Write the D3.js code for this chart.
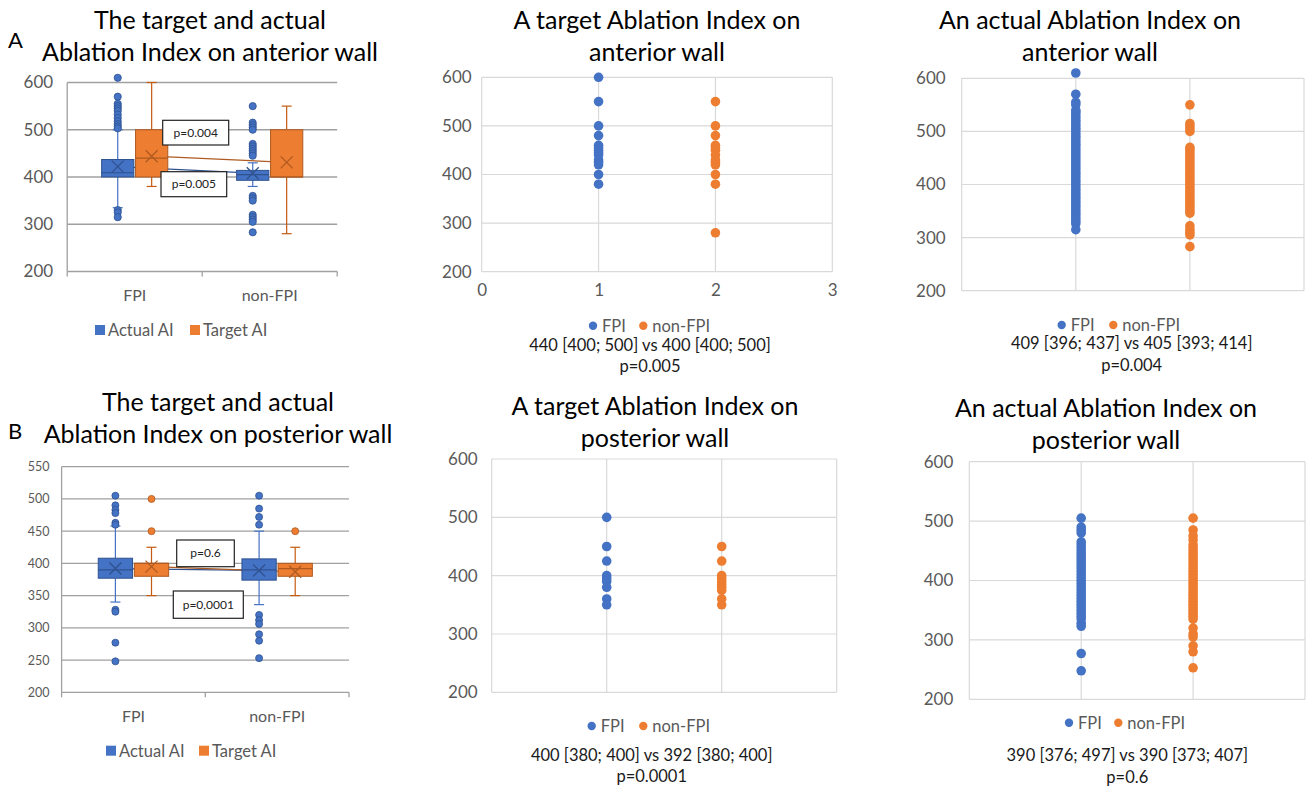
<!DOCTYPE html>
<html lang="en">
<head>
<meta charset="UTF-8">
<title>Ablation Index on anterior and posterior wall</title>
<script src="https://d3js.org/d3.v7.min.js"></script>
<style>
  body { margin: 0; background: #fff; }
  svg { display: block; font-family: Lato, "Open Sans", sans-serif; }
</style>
</head>
<body>
<div id="chart"></div>
<script>
// ---- values ----
const groups = ['FPI', 'non-FPI'];
const boxSeries = ['Actual AI', 'Target AI'];

// box stats per group: [q1, median, q3, mean, whiskerLow, whiskerHigh]
const antActualBox = [[400, 409, 437, 422, 335, 500], [393, 405, 414, 408, 380, 430]];
const antTargetBox = [[400, 440, 500, 444, 380, 600], [400, 400, 500, 431, 280, 550]];
const antActualOut = [
  [610, 570, 555, 550, 545, 540, 532, 525, 518, 512, 507, 503, 330, 325, 315],
  [550, 515, 510, 505, 500, 470, 465, 460, 455, 450, 445, 360, 355, 350, 320, 315, 310, 305, 283]
];
const antTargetOut = [[], []];

const postActualBox = [[377, 390, 408, 392, 340, 458], [374, 390, 407, 389, 336, 450]];
const postTargetBox = [[380, 400, 400, 395, 350, 425], [380, 392, 400, 387, 350, 425]];
const postActualOut = [
  [505, 490, 483, 478, 463, 460, 328, 325, 277, 248],
  [505, 485, 472, 460, 320, 312, 306, 290, 280, 253]
];
const postTargetOut = [[500, 450], [450]];

// scatter columns (x = 1 for FPI, x = 2 for non-FPI)
const antTargetFPI = [600, 550, 500, 480, 460, 455, 450, 445, 440, 430, 425, 420, 400, 380];
const antTargetNon = [550, 500, 480, 460, 455, 450, 440, 430, 425, 420, 400, 380, 280];
const antActualFPI = [610, 570, 555, 550, 540, 536, 531, 526, 521, 516, 511, 506, 501, 496, 491, 486,
  481, 476, 471, 466, 461, 456, 451, 446, 441, 436, 431, 426, 421, 416, 411, 406, 401, 396, 391,
  386, 381, 376, 371, 366, 361, 356, 351, 346, 341, 336, 331, 326, 315];
const antActualNon = [550, 515, 510, 505, 500, 470, 466, 461, 456, 451, 446, 441, 436, 431, 426, 421,
  416, 411, 406, 401, 396, 391, 386, 381, 376, 371, 366, 361, 356, 351, 346, 322, 315, 310, 305, 283];
const postTargetFPI = [500, 450, 425, 400, 395, 390, 380, 360, 350];
const postTargetNon = [450, 425, 400, 395, 390, 385, 380, 375, 360, 350];
const postActualFPI = [505, 490, 485, 480, 465, 460, 455, 450, 445, 440, 435, 430, 425, 420, 415,
  410, 405, 400, 395, 390, 385, 380, 375, 370, 365, 360, 355, 350, 345, 340, 335, 328, 323, 277, 248];
const postActualNon = [505, 485, 475, 468, 460, 455, 450, 445, 440, 435, 430, 425, 420, 415, 410,
  405, 400, 395, 390, 385, 380, 375, 370, 365, 360, 355, 350, 345, 340, 335, 320, 310, 305, 290, 280, 253];

const blue = '#4472C4', blueDark = '#2F528F';
const orange = '#ED7D31', orangeDark = '#AE5A21';

const svg = d3.select('#chart').append('svg')
    .attr('width', 1307)
    .attr('height', 787);

// ---- titles ----
function title(lines, cx, baselines, size) {
    lines.forEach((t, i) => {
        svg.append('text')
            .attr('x', cx).attr('y', baselines[i])
            .attr('text-anchor', 'middle')
            .style('font-size', size + 'px')
            .style('fill', '#000')
            .text(t);
    });
}
title(['The target and actual', 'Ablation Index on anterior wall'], 210, [29, 61], 25);
title(['A target Ablation Index on', 'anterior wall'], 657, [29, 61], 25);
title(['An actual Ablation Index on', 'anterior wall'], 1090, [29, 61], 25);
title(['The target and actual', 'Ablation Index on posterior wall'], 218, [411, 443], 25);
title(['A target Ablation Index on', 'posterior wall'], 655, [415, 447], 25);
title(['An actual Ablation Index on', 'posterior wall'], 1106, [417, 449], 25);
svg.append('text').attr('x', 8).attr('y', 48).style('font-size', '22px').text('A');
svg.append('text').attr('x', 8).attr('y', 439).style('font-size', '22px').text('B');

// ---- box plot panel ----
function boxPanel(cfg) {
    const g = svg.append('g');
    const y = d3.scaleLinear().domain(cfg.yDomain).range([cfg.bottom, cfg.top]);
    const x = d3.scaleBand().domain(groups).range([cfg.left, cfg.right]);
    const bw = x.bandwidth();
    const inner = d3.scaleBand().domain(boxSeries)
        .range([bw * 0.255, bw * 0.745]).paddingInner(0.05);

    // gridlines
    g.selectAll('.grid').data(cfg.ticks).enter().append('line')
        .attr('x1', cfg.left).attr('x2', cfg.right)
        .attr('y1', d => y(d)).attr('y2', d => y(d))
        .attr('stroke', '#a0a0a0').attr('stroke-width', 1.3);
    g.append('line').attr('x1', cfg.left).attr('x2', cfg.left)
        .attr('y1', cfg.top).attr('y2', cfg.bottom)
        .attr('stroke', '#a0a0a0').attr('stroke-width', 1.3);
    g.selectAll('.xt').data([cfg.left, cfg.left + bw, cfg.right]).enter().append('line')
        .attr('x1', d => d).attr('x2', d => d)
        .attr('y1', cfg.bottom).attr('y2', cfg.bottom + 5)
        .attr('stroke', '#a0a0a0').attr('stroke-width', 1.3);

    // y axis labels
    const ax = g.append('g')
        .attr('transform', `translate(${cfg.left},0)`)
        .call(d3.axisLeft(y).tickValues(cfg.ticks).tickSize(0).tickPadding(cfg.tickPad));
    ax.select('.domain').remove();
    ax.selectAll('text').style('font-family', 'Lato, sans-serif')
        .style('font-size', cfg.tickSize + 'px').attr('fill', '#595959');

    // category labels
    g.selectAll('.cat').data(groups).enter().append('text')
        .attr('x', d => x(d) + bw / 2).attr('y', cfg.catY)
        .attr('text-anchor', 'middle')
        .style('font-size', '16px').style('fill', '#595959')
        .text(d => d);

    const series = [
        { name: 'Actual AI', box: cfg.actual, out: cfg.actualOut, fill: blue, dark: blueDark, whisk: blue },
        { name: 'Target AI', box: cfg.target, out: cfg.targetOut, fill: orange, dark: orangeDark, whisk: '#C55A11' }
    ];
    const cx = (s, gi) => x(groups[gi]) + inner(s.name) + inner.bandwidth() / 2;

    // mean lines, drawn under the boxes
    series.forEach(s => {
        g.append('path')
            .datum(s.box)
            .attr('d', d3.line().x((d, i) => cx(s, i)).y(d => y(d[3])))
            .attr('fill', 'none').attr('stroke', s.dark).attr('stroke-width', 1.2);
    });

    series.forEach(s => {
        s.box.forEach((b, gi) => {
            const c = cx(s, gi), w = inner.bandwidth();
            // whiskers
            g.append('line').attr('x1', c).attr('x2', c)
                .attr('y1', y(b[5])).attr('y2', y(b[2]))
                .attr('stroke', s.whisk).attr('stroke-width', 1.2);
            g.append('line').attr('x1', c).attr('x2', c)
                .attr('y1', y(b[0])).attr('y2', y(b[4]))
                .attr('stroke', s.whisk).attr('stroke-width', 1.2);
            [b[4], b[5]].forEach(v => {
                g.append('line').attr('x1', c - 5).attr('x2', c + 5)
                    .attr('y1', y(v)).attr('y2', y(v))
                    .attr('stroke', s.whisk).attr('stroke-width', 1.2);
            });
            // box
            g.append('rect')
                .attr('x', c - w / 2).attr('width', w)
                .attr('y', y(b[2])).attr('height', Math.max(1, y(b[0]) - y(b[2])))
                .attr('fill', s.fill).attr('stroke', s.dark).attr('stroke-width', 1);
            // median
            g.append('line').attr('x1', c - w / 2).attr('x2', c + w / 2)
                .attr('y1', y(b[1])).attr('y2', y(b[1]))
                .attr('stroke', s.dark).attr('stroke-width', 1.2);
            // mean marker
            const m = y(b[3]), k = 6;
            g.append('path')
                .attr('d', `M${c - k},${m - k}L${c + k},${m + k}M${c - k},${m + k}L${c + k},${m - k}`)
                .attr('stroke', s.dark).attr('stroke-width', 1.3).attr('fill', 'none');
            // outliers
            g.selectAll(null).data(s.out[gi]).enter().append('circle')
                .attr('cx', c).attr('cy', d => y(d)).attr('r', cfg.dotR)
                .attr('fill', s.fill).attr('stroke', s.dark).attr('stroke-width', 0.8);
        });
    });

    // p-value labels
    cfg.pLabels.forEach(p => {
        g.append('rect').attr('x', p.x).attr('y', p.y).attr('width', p.w).attr('height', p.h)
            .attr('fill', '#fff').attr('stroke', '#222').attr('stroke-width', 1.2);
        g.append('text').attr('x', p.x + p.w / 2).attr('y', p.y + p.h / 2 + 4)
            .attr('text-anchor', 'middle').style('font-size', '12px').style('fill', '#222')
            .text(p.text);
    });

    // legend
    series.forEach((s, i) => {
        const lx = cfg.legendX[i];
        g.append('rect').attr('x', lx - 5).attr('y', cfg.legendY - 5)
            .attr('width', 10).attr('height', 10).attr('fill', s.fill);
        g.append('text').attr('x', lx + 8).attr('y', cfg.legendY + 6)
            .style('font-size', '16.5px').style('fill', '#595959').text(s.name);
    });
}

boxPanel({
    left: 67.2, right: 337.2, top: 82.5, bottom: 271.5,
    yDomain: [200, 600], ticks: [200, 300, 400, 500, 600],
    tickSize: 17, tickPad: 14, dotR: 3.6, catY: 301,
    actual: antActualBox, target: antTargetBox,
    actualOut: antActualOut, targetOut: antTargetOut,
    pLabels: [
        { text: 'p=0.004', x: 162.7, y: 120.3, w: 66, h: 24.7 },
        { text: 'p=0.005', x: 161, y: 171.7, w: 65.7, h: 25 }
    ],
    legendX: [100, 195], legendY: 330
});

boxPanel({
    left: 61.6, right: 349, top: 466.7, bottom: 692.3,
    yDomain: [200, 550], ticks: [200, 250, 300, 350, 400, 450, 500, 550],
    tickSize: 12.5, tickPad: 12, dotR: 3.5, catY: 722,
    actual: postActualBox, target: postTargetBox,
    actualOut: postActualOut, targetOut: postTargetOut,
    pLabels: [
        { text: 'p=0.6', x: 176.7, y: 540, w: 57.6, h: 26.7 },
        { text: 'p=0,0001', x: 173.3, y: 591, w: 70, h: 27.3 }
    ],
    legendX: [111, 204], legendY: 750.7
});

// ---- scatter panel ----
function scatterPanel(cfg) {
    const g = svg.append('g');
    const x = d3.scaleLinear().domain([0, 3]).range([cfg.left, cfg.right]);
    const y = d3.scaleLinear().domain([200, 600]).range([cfg.bottom, cfg.top]);
    const yt = [200, 300, 400, 500, 600], xt = [0, 1, 2, 3];

    g.selectAll('.gy').data(yt).enter().append('line')
        .attr('x1', cfg.left).attr('x2', cfg.right)
        .attr('y1', d => y(d)).attr('y2', d => y(d))
        .attr('stroke', '#d9d9d9').attr('stroke-width', 1.2);
    g.selectAll('.gx').data(xt).enter().append('line')
        .attr('x1', d => x(d)).attr('x2', d => x(d))
        .attr('y1', cfg.top).attr('y2', cfg.bottom)
        .attr('stroke', '#d9d9d9').attr('stroke-width', 1.2);

    const ay = g.append('g').attr('transform', `translate(${cfg.left},0)`)
        .call(d3.axisLeft(y).tickValues(yt).tickSize(0).tickPadding(cfg.tickPad));
    ay.select('.domain').remove();
    ay.selectAll('text').style('font-family', 'Lato, sans-serif')
        .style('font-size', '17px').attr('fill', '#595959');

    if (cfg.xLabels) {
        const axx = g.append('g').attr('transform', `translate(0,${cfg.bottom})`)
            .call(d3.axisBottom(x).tickValues(xt).tickFormat(d3.format('d')).tickSize(0).tickPadding(12));
        axx.select('.domain').remove();
        axx.selectAll('text').style('font-family', 'Lato, sans-serif')
            .style('font-size', '17px').attr('fill', '#595959');
    }

    const cols = [
        { xv: 1, vals: cfg.fpi, color: blue },
        { xv: 2, vals: cfg.non, color: orange }
    ];
    cols.forEach(c => {
        g.selectAll(null).data(c.vals).enter().append('circle')
            .attr('cx', x(c.xv)).attr('cy', d => y(d)).attr('r', 4.8)
            .attr('fill', c.color);
    });

    // legend
    [['FPI', blue], ['non-FPI', orange]].forEach((l, i) => {
        g.append('circle').attr('cx', cfg.legendX[i]).attr('cy', cfg.legendY).attr('r', 4.2)
            .attr('fill', l[1]);
        g.append('text').attr('x', cfg.legendX[i] + 9).attr('y', cfg.legendY + 6)
            .style('font-size', '16.5px').style('fill', '#595959').text(l[0]);
    });

    cfg.notes.forEach((t, i) => {
        g.append('text').attr('x', cfg.noteX).attr('y', cfg.noteY[i])
            .attr('text-anchor', 'middle')
            .style('font-size', '16.5px').style('fill', '#1a1a1a').text(t);
    });
}

scatterPanel({
    left: 481.7, right: 832.3, top: 77.3, bottom: 271.7, tickPad: 10, xLabels: true,
    fpi: antTargetFPI, non: antTargetNon,
    legendX: [593, 643.3], legendY: 325.7,
    notes: ['440 [400; 500] vs 400 [400; 500]', 'p=0.005'], noteX: 650, noteY: [351, 371.5]
});
scatterPanel({
    left: 961.7, right: 1304, top: 78.3, bottom: 290.7, tickPad: 16, xLabels: false,
    fpi: antActualFPI, non: antActualNon,
    legendX: [1061.7, 1113.3], legendY: 325,
    notes: ['409 [396; 437] vs 405 [393; 414]', 'p=0.004'], noteX: 1131.7, noteY: [349, 371]
});
scatterPanel({
    left: 491.7, right: 836.7, top: 459, bottom: 692.3, tickPad: 14, xLabels: false,
    fpi: postTargetFPI, non: postTargetNon,
    legendX: [591.7, 643.3], legendY: 726,
    notes: ['400 [380; 400] vs 392 [380; 400]', 'p=0.0001'], noteX: 651.7, noteY: [761, 781.5]
});
scatterPanel({
    left: 969.3, right: 1305, top: 461.7, bottom: 699.3, tickPad: 16, xLabels: false,
    fpi: postActualFPI, non: postActualNon,
    legendX: [1069, 1118.3], legendY: 722.7,
    notes: ['390 [376; 497] vs 390 [373; 407]', 'p=0.6'], noteX: 1127.3, noteY: [761, 782.5]
});
</script>
</body>
</html>
